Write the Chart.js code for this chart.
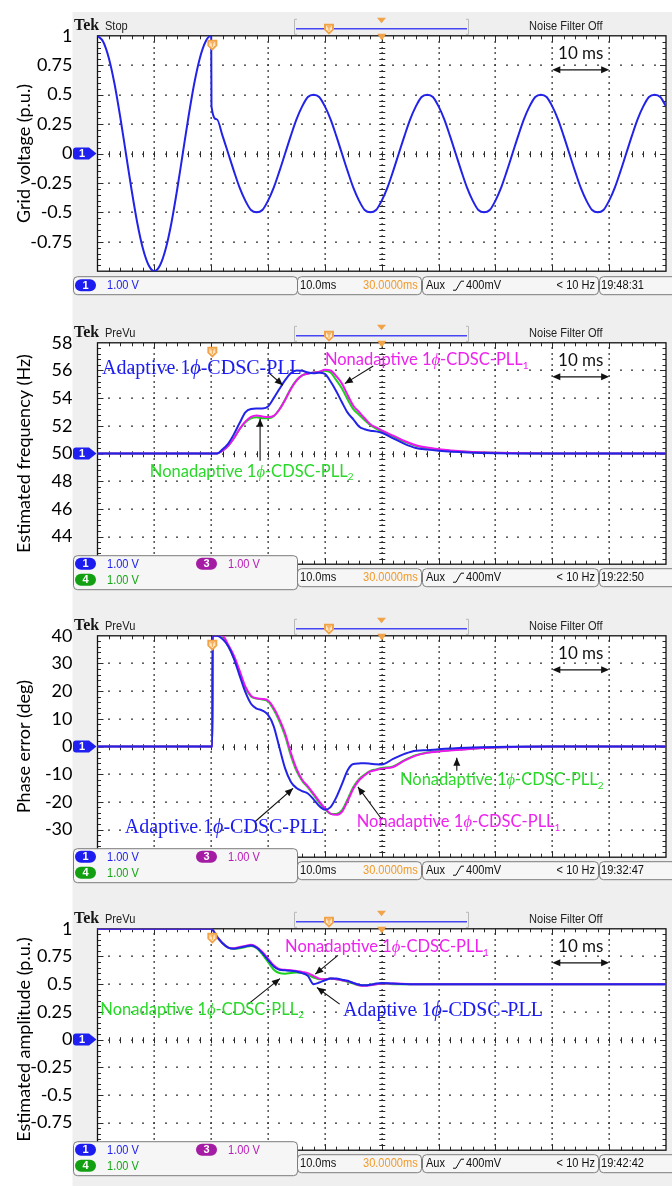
<!DOCTYPE html>
<html>
<head>
<meta charset="utf-8">
<script src="https://cdn.jsdelivr.net/npm/chart.js@4.4.1/dist/chart.umd.min.js"></script>
<style>
html, body { margin: 0; padding: 0; background: #fff; }
#wrap { position: relative; width: 672px; height: 1186px; overflow: hidden; }
canvas { position: absolute; left: 0; }
</style>
</head>
<body>
<div id="wrap">
  <canvas id="c1" width="672" height="307" style="top:0px"></canvas>
  <canvas id="c2" width="672" height="293" style="top:307px"></canvas>
  <canvas id="c3" width="672" height="293" style="top:600px"></canvas>
  <canvas id="c4" width="672" height="293" style="top:893px"></canvas>
</div>
<script>
// ---- panel 1: grid voltage (p.u.), time in ms
var V_T = [0,1,2,3,4,5,6,7,8,9,10,11,12,13,14,15,16,17,18,19,20,
  20.05,21,22,23,24,25,26,27,28,29,30,31,32,33,34,35,36,37,38,39,
  40,41,42,43,44,45,46,47,48,49,50,51,52,53,54,55,56,57,58,59,
  60,61,62,63,64,65,66,67,68,69,70,71,72,73,74,75,76,77,78,79,
  80,81,82,83,84,85,86,87,88,89,90,91,92,93,94,95,96,97,98,99,100];
var V_GRID = [1.00,0.95,0.81,0.59,0.31,0.00,-0.31,-0.59,-0.81,-0.95,-1.00,-0.95,-0.81,-0.59,-0.31,0.00,0.31,0.59,0.81,0.95,1.00,
  0.40,0.29,0.15,0.00,-0.15,-0.29,-0.40,-0.48,-0.50,-0.48,-0.40,-0.29,-0.15,0.00,0.15,0.29,0.40,0.48,0.50,0.48,
  0.40,0.29,0.15,0.00,-0.15,-0.29,-0.40,-0.48,-0.50,-0.48,-0.40,-0.29,-0.15,0.00,0.15,0.29,0.40,0.48,0.50,0.48,
  0.40,0.29,0.15,0.00,-0.15,-0.29,-0.40,-0.48,-0.50,-0.48,-0.40,-0.29,-0.15,0.00,0.15,0.29,0.40,0.48,0.50,0.48,
  0.40,0.29,0.15,0.00,-0.15,-0.29,-0.40,-0.48,-0.50,-0.48,-0.40,-0.29,-0.15,0.00,0.15,0.29,0.40,0.48,0.50,0.48,
  0.40];
var V_TICKS = [1, 0.75, 0.5, 0.25, 0, -0.25, -0.5, -0.75];

// ---- panel 2: estimated frequency (Hz)
var F_T = [0,10,20,21,22,23,24,25,26,27,28,29,30,31,32,33,34,35,36,37,38,39,40,41,42,43,44,45,46,47,48,49,50,52,54,56,58,60,65,70,80,90,100];
var F_ADAPTIVE = [50,50,50,50,50.3,50.72,51.4,52.2,52.97,53.22,53.25,53.26,53.4,54.0,54.66,55.3,55.8,56.0,55.98,55.85,55.8,55.83,55.75,55.2,54.5,53.7,52.95,52.47,51.95,51.75,51.65,51.6,51.5,51.1,50.7,50.4,50.28,50.2,50.08,50.02,50,50,50];
var F_NON1 = [50,50,50,50,50.2,50.55,51.1,51.77,52.3,52.65,52.75,52.68,52.63,52.72,53.18,53.87,54.65,55.27,55.65,55.77,55.85,55.9,56.05,56.0,55.59,55.05,54.23,53.45,53.0,52.55,52.12,51.88,51.67,51.29,50.9,50.6,50.43,50.3,50.13,50.05,50,50,50];
var F_NON2 = [50,50,50,50,50.2,50.55,51.1,51.75,52.25,52.55,52.62,52.55,52.55,52.7,53.2,53.9,54.7,55.3,55.65,55.78,55.85,55.9,55.98,55.85,55.3,54.7,53.9,53.2,52.8,52.4,52.05,51.8,51.6,51.22,50.85,50.55,50.4,50.28,50.12,50.05,50,50,50];
var F_TICKS = [58, 56, 54, 52, 50, 48, 46, 44];

// ---- panel 3: phase error (deg)
var P_T = [0,10,20.2,20.25,21,22,23,24,25,26,27,28,29,30,31,32,33,34,35,36,37,38,39,40,41,42,43,44,45,46,47,48,49,50,52,54,56,58,60,65,70,80,90,100];
var P_ADAPTIVE = [0,0,0,40,40,38.8,36.2,31.7,25.6,19.7,15.45,13.7,13.0,11.4,7.3,-0.4,-7.9,-12.7,-15.0,-16.1,-17.0,-19.1,-21.5,-22.8,-21.9,-18.4,-13.6,-8.55,-6.3,-6.1,-6.05,-6.2,-6.4,-6.5,-4.5,-2.65,-1.5,-1.35,-1.0,-0.45,-0.15,0,0,0];
var P_NON1 = [0,0,0,40,40,40,36.7,32.8,27.4,21.7,18.4,17.4,17.2,16.6,13.9,9.9,4.8,-2.2,-8.0,-12.0,-14.4,-17.0,-19.8,-22.3,-24.3,-24.7,-23.6,-19.7,-15.3,-12.2,-10.4,-9.0,-8.5,-8.0,-7.4,-5.1,-3.3,-2.3,-1.8,-1.0,-0.4,0,0,0];
var P_NON2 = [0,0,0,40,40,39.5,36.2,32.0,26.8,21.2,18.1,17.3,17.0,16.3,13.3,9.1,3.8,-3.2,-8.8,-12.4,-14.8,-17.5,-20.3,-22.7,-24.3,-24.4,-23.0,-19.0,-14.6,-11.8,-10.1,-8.8,-8.3,-7.8,-7.2,-4.9,-3.1,-2.2,-1.7,-0.9,-0.4,0,0,0];
var P_TICKS = [40, 30, 20, 10, 0, -10, -20, -30];

// ---- panel 4: estimated amplitude (p.u.)
var A_T = [0,10,20,21,22,23,24,25,26,27,28,29,30,31,32,33,34,35,36,37,38,39,40,41,42,43,44,45,46,47,48,49,50,52,55,60,70,80,90,100];
var A_ADAPTIVE = [1,1,1,0.93,0.87,0.83,0.82,0.83,0.84,0.85,0.83,0.78,0.72,0.66,0.63,0.625,0.62,0.615,0.60,0.575,0.50,0.515,0.535,0.55,0.55,0.54,0.53,0.51,0.495,0.49,0.495,0.505,0.51,0.505,0.50,0.50,0.50,0.50,0.50,0.50];
var A_NON1 = [1,1,1,0.93,0.87,0.83,0.825,0.835,0.845,0.855,0.835,0.79,0.73,0.67,0.635,0.63,0.625,0.62,0.61,0.60,0.575,0.55,0.545,0.55,0.545,0.535,0.525,0.51,0.49,0.485,0.49,0.50,0.505,0.505,0.50,0.50,0.50,0.50,0.50,0.50];
var A_NON2 = [1,1,1,0.93,0.87,0.83,0.82,0.825,0.835,0.845,0.825,0.77,0.70,0.63,0.60,0.595,0.60,0.605,0.60,0.585,0.56,0.545,0.545,0.55,0.545,0.535,0.52,0.505,0.49,0.49,0.495,0.50,0.505,0.50,0.50,0.50,0.50,0.50,0.50,0.50];
var A_TICKS = [1, 0.75, 0.5, 0.25, 0, -0.25, -0.5, -0.75];

// ---- looks
var GREY = '#efefef';
var BLUE = '#2323e8', MAGENTA = '#ee16ee', GREEN = '#20d020';
var TXT_BLUE = '#1c1cf2', TXT_MAGENTA = '#ee22ee', TXT_GREEN = '#2ad82a';
var ORANGE = '#f2a347';
var SANS = 'Lato, "Open Sans", sans-serif';
var SERIF = '"Liberation Serif", "DejaVu Serif", serif';
var NARROW = '"Liberation Sans", Arial, sans-serif';

var LABEL_PARTS = {
  adaptive: [{t: 'Adaptive 1'}, {t: '\u03D5', it: true}, {t: '-CDSC-PLL'}],
  non1: [{t: 'Nonadaptive 1'}, {t: '\u03D5', it: true, serif: true}, {t: '-CDSC-PLL'}, {t: '1', sub: true}],
  non2: [{t: 'Nonadaptive 1'}, {t: '\u03D5', it: true, serif: true}, {t: '-CDSC-PLL'}, {t: '2', sub: true}]
};
var LABEL_COLOR = {adaptive: TXT_BLUE, non1: TXT_MAGENTA, non2: TXT_GREEN};

// squeezed scope text
function sq(ctx, str, x, y, color, size, align) {
  ctx.save();
  ctx.font = size + 'px ' + NARROW;
  ctx.fillStyle = color;
  ctx.textBaseline = 'middle';
  ctx.textAlign = align || 'left';
  ctx.translate(x, y);
  ctx.scale(0.85, 1);
  ctx.fillText(str, 0, 0);
  ctx.restore();
}

function box(ctx, x, y, w, h) {
  ctx.beginPath();
  ctx.roundRect(x + 0.5, y + 0.5, w, h, 4);
  ctx.fillStyle = '#f6f6f6';
  ctx.fill();
  ctx.strokeStyle = '#7c7c7c';
  ctx.lineWidth = 1;
  ctx.stroke();
}

function pill(ctx, x, y, color, label) {
  ctx.beginPath();
  ctx.roundRect(x, y - 6, 21, 12, 6);
  ctx.fillStyle = color;
  ctx.fill();
  ctx.fillStyle = '#fff';
  ctx.font = 'bold 11px ' + NARROW;
  ctx.textAlign = 'center';
  ctx.textBaseline = 'middle';
  ctx.fillText(label, x + 10.5, y + 0.5);
}

function arrowHead(ctx, x1, y1, x2, y2, len, half) {
  var ang = Math.atan2(y2 - y1, x2 - x1);
  ctx.beginPath();
  ctx.moveTo(x2, y2);
  ctx.lineTo(x2 - len * Math.cos(ang) + half * Math.sin(ang), y2 - len * Math.sin(ang) - half * Math.cos(ang));
  ctx.lineTo(x2 - len * Math.cos(ang) - half * Math.sin(ang), y2 - len * Math.sin(ang) + half * Math.cos(ang));
  ctx.closePath();
  ctx.fill();
}

function drawGraticule(chart) {
  var ctx = chart.ctx, a = chart.chartArea, X = chart.scales.x, Y = chart.scales.y;
  var ymin = Y.min, ystep = (Y.max - Y.min) / 8;
  var k, x, y, L;
  ctx.save();
  ctx.fillStyle = '#3a3a3a';
  for (var i = 1; i < 10; i++) {
    x = Math.round(X.getPixelForValue(i * 10));
    for (k = 1; k < 40; k++) {
      y = Y.getPixelForValue(ymin + k * ystep / 5);
      ctx.fillRect(x - 0.5, Math.round(y) - 1, 1.3, 2);
    }
  }
  for (var j = 1; j < 8; j++) {
    y = Math.round(Y.getPixelForValue(ymin + j * ystep));
    for (k = 1; k < 50; k++) {
      x = X.getPixelForValue(k * 2);
      ctx.fillRect(Math.round(x) - 1, y - 0.5, 2, 1.3);
    }
  }
  ctx.strokeStyle = '#2a2a2a';
  ctx.lineWidth = 1;
  var cx = Math.round(X.getPixelForValue(50)) + 0.25, cy = Math.round(Y.getPixelForValue(ymin + 4 * ystep)) + 0.25;
  ctx.beginPath();
  for (k = 1; k < 40; k++) {
    y = Math.round(Y.getPixelForValue(ymin + k * ystep / 5)) + 0.5;
    ctx.moveTo(cx - 3, y); ctx.lineTo(cx + 3, y);
    L = k % 5 === 0 ? 6 : 3.5;
    ctx.moveTo(a.left, y); ctx.lineTo(a.left + L, y);
    ctx.moveTo(a.right, y); ctx.lineTo(a.right - L, y);
  }
  for (k = 1; k < 50; k++) {
    x = Math.round(X.getPixelForValue(k * 2)) + 0.5;
    ctx.moveTo(x, cy - 3); ctx.lineTo(x, cy + 3);
    L = k % 5 === 0 ? 6 : 3.5;
    ctx.moveTo(x, a.top); ctx.lineTo(x, a.top + L);
    ctx.moveTo(x, a.bottom); ctx.lineTo(x, a.bottom - L);
  }
  ctx.stroke();
  ctx.strokeStyle = '#111';
  ctx.lineWidth = 1.3;
  ctx.strokeRect(a.left, a.top, a.right - a.left, a.bottom - a.top);
  ctx.restore();
}

function drawHeader(chart, p) {
  var ctx = chart.ctx, a = chart.chartArea, yc = a.top - 10;
  ctx.save();
  ctx.font = 'bold 16px ' + SERIF;
  ctx.fillStyle = '#151515';
  ctx.textBaseline = 'middle';
  ctx.textAlign = 'left';
  ctx.fillText('Tek', 74, yc + 0.5);
  sq(ctx, p.mode, 105, yc + 1, '#222', 13);
  sq(ctx, 'Noise Filter Off', 529, yc + 1, '#222', 13);
  // record-length bar
  ctx.strokeStyle = '#b8b8b8';
  ctx.lineWidth = 1;
  ctx.beginPath();
  ctx.moveTo(297, yc - 6.5); ctx.lineTo(294.5, yc - 6.5); ctx.lineTo(294.5, yc + 8.5); ctx.lineTo(297, yc + 8.5);
  ctx.moveTo(466, yc - 6.5); ctx.lineTo(468.5, yc - 6.5); ctx.lineTo(468.5, yc + 8.5); ctx.lineTo(466, yc + 8.5);
  ctx.stroke();
  ctx.strokeStyle = '#4646f2';
  ctx.lineWidth = 1.6;
  ctx.beginPath();
  ctx.moveTo(296, yc + 3); ctx.lineTo(467, yc + 3);
  ctx.stroke();
  tMarker(ctx, 329, yc + 3);
  ctx.fillStyle = ORANGE;
  ctx.beginPath();
  ctx.moveTo(377, yc - 8); ctx.lineTo(386, yc - 8); ctx.lineTo(381.5, yc - 2.5);
  ctx.closePath();
  ctx.fill();
  ctx.restore();
}

function tMarker(ctx, x, y) {
  ctx.fillStyle = ORANGE;
  ctx.beginPath();
  ctx.moveTo(x - 5, y - 5); ctx.lineTo(x + 5, y - 5); ctx.lineTo(x + 5, y + 1); ctx.lineTo(x, y + 6); ctx.lineTo(x - 5, y + 1);
  ctx.closePath();
  ctx.fill();
  ctx.fillStyle = '#fde6c6';
  ctx.beginPath();
  ctx.moveTo(x - 3, y - 3); ctx.lineTo(x + 3, y - 3); ctx.lineTo(x + 3, y + 0.5); ctx.lineTo(x, y + 3.5); ctx.lineTo(x - 3, y + 0.5);
  ctx.closePath();
  ctx.fill();
  ctx.fillStyle = ORANGE;
  ctx.fillRect(x - 2, y - 2.5, 4, 1);
  ctx.fillRect(x - 0.5, y - 2.5, 1, 4.5);
}

function drawMarkers(chart, p) {
  var ctx = chart.ctx, a = chart.chartArea, X = chart.scales.x, Y = chart.scales.y;
  ctx.save();
  // trigger point and centre marker
  tMarker(ctx, X.getPixelForValue(20.2), a.top + 9);
  ctx.fillStyle = ORANGE;
  var cx = X.getPixelForValue(50);
  ctx.beginPath();
  ctx.moveTo(cx - 4.5, a.top - 2); ctx.lineTo(cx + 4.5, a.top - 2); ctx.lineTo(cx, a.top + 5);
  ctx.closePath();
  ctx.fill();
  // channel 1 ground marker
  var y = Y.getPixelForValue(p.zero);
  ctx.fillStyle = '#1f1ff0';
  ctx.beginPath();
  ctx.moveTo(76, y - 6); ctx.lineTo(89, y - 6); ctx.lineTo(96.5, y); ctx.lineTo(89, y + 6); ctx.lineTo(76, y + 6);
  ctx.quadraticCurveTo(73, y + 6, 73, y + 3); ctx.lineTo(73, y - 3); ctx.quadraticCurveTo(73, y - 6, 76, y - 6);
  ctx.closePath();
  ctx.fill();
  ctx.fillStyle = '#fff';
  ctx.font = 'bold 11px ' + NARROW;
  ctx.textAlign = 'center';
  ctx.textBaseline = 'middle';
  ctx.fillText('1', 82, y + 0.5);
  ctx.restore();
}

function drawStatus(chart, p) {
  var ctx = chart.ctx, pb = chart.chartArea.bottom;
  var ry, rh = 18, ty;
  ctx.save();
  if (p.channels === 1) {
    ry = pb + 5;
    box(ctx, 73, ry, 224, rh);
    pill(ctx, 75, ry + 9, '#1c1cf0', '1');
    sq(ctx, '1.00 V', 107, ry + 9.5, '#2020f0', 13);
  } else {
    ry = pb + 4;
    box(ctx, 73, pb - 9, 224, 34);
    pill(ctx, 75, pb - 0.5, '#1c1cf0', '1');
    sq(ctx, '1.00 V', 107, pb, '#2020f0', 13);
    pill(ctx, 196, pb - 0.5, '#a41ca4', '3');
    sq(ctx, '1.00 V', 228, pb, '#b81cb8', 13);
    pill(ctx, 75, pb + 15.5, '#12a012', '4');
    sq(ctx, '1.00 V', 107, pb + 16, '#14a814', 13);
  }
  ty = ry + 9.5;
  box(ctx, 297, ry, 124, rh);
  sq(ctx, '10.0ms', 300, ty, '#111', 13);
  sq(ctx, '30.0000ms', 363, ty, '#f09a2a', 13);
  box(ctx, 422, ry, 176, rh);
  sq(ctx, 'Aux', 426, ty, '#111', 13);
  ctx.strokeStyle = '#111';
  ctx.lineWidth = 1;
  ctx.beginPath();
  ctx.moveTo(453, ty + 4.5); ctx.lineTo(456, ty + 4.5); ctx.lineTo(461, ty - 4.5); ctx.lineTo(464, ty - 4.5);
  ctx.stroke();
  sq(ctx, '400mV', 466, ty, '#111', 13);
  sq(ctx, '< 10 Hz', 595, ty, '#111', 13, 'right');
  box(ctx, 599, ry, 90, rh);
  sq(ctx, p.clock, 601, ty, '#111', 13);
  ctx.restore();
}

function drawScaleBar(chart) {
  var ctx = chart.ctx, a = chart.chartArea, X = chart.scales.x;
  var x1 = X.getPixelForValue(80), x2 = X.getPixelForValue(90), y = a.top + 34;
  ctx.save();
  ctx.fillStyle = '#111';
  ctx.font = '17px ' + SANS;
  ctx.textAlign = 'center';
  ctx.textBaseline = 'middle';
  ctx.fillText('10 ms', (x1 + x2) / 2, a.top + 18);
  ctx.strokeStyle = '#111';
  ctx.lineWidth = 1.3;
  ctx.beginPath();
  ctx.moveTo(x1 + 4, y); ctx.lineTo(x2 - 4, y);
  ctx.stroke();
  arrowHead(ctx, x2, y, x1, y, 8, 3.5);
  arrowHead(ctx, x1, y, x2, y, 8, 3.5);
  ctx.restore();
}

function drawNotes(chart, p) {
  var ctx = chart.ctx, X = chart.scales.x, Y = chart.scales.y;
  ctx.save();
  (p.arrows || []).forEach(function(r) {
    var x1 = X.getPixelForValue(r[0]), y1 = Y.getPixelForValue(r[1]);
    var x2 = X.getPixelForValue(r[2]), y2 = Y.getPixelForValue(r[3]);
    ctx.strokeStyle = '#111';
    ctx.fillStyle = '#111';
    ctx.lineWidth = 1.1;
    ctx.beginPath();
    ctx.moveTo(x1, y1); ctx.lineTo(x2, y2);
    ctx.stroke();
    arrowHead(ctx, x1, y1, x2, y2, 8, 3.5);
  });
  (p.labels || []).forEach(function(l) {
    var isSerif = l.kind === 'adaptive';
    var size = isSerif ? 20 : 16.5;
    var cx = X.getPixelForValue(l.x), base = Y.getPixelForValue(l.y) + size * 0.33;
    ctx.fillStyle = LABEL_COLOR[l.kind];
    ctx.textBaseline = 'alphabetic';
    ctx.textAlign = 'left';
    LABEL_PARTS[l.kind].forEach(function(part) {
      var s = part.sub ? Math.round(size * 0.62) : size;
      var fam = (isSerif || part.serif) ? SERIF : SANS;
      ctx.font = (part.it ? 'italic ' : '') + s + 'px ' + fam;
      ctx.fillText(part.t, cx, base + (part.sub ? size * 0.22 : 0));
      cx += ctx.measureText(part.t).width;
    });
  });
  ctx.restore();
}

function scopePlugin(p) {
  return {
    id: 'scope',
    beforeDraw: function(chart) {
      var ctx = chart.ctx, a = chart.chartArea;
      ctx.save();
      ctx.fillStyle = '#fff';
      ctx.fillRect(0, 0, chart.width, chart.height);
      ctx.fillStyle = GREY;
      ctx.fillRect(72.5, p.greyTop, chart.width - 72.5, chart.height - p.greyTop);
      ctx.fillStyle = '#fff';
      ctx.fillRect(a.left, a.top, a.right - a.left, a.bottom - a.top);
      ctx.restore();
    },
    beforeDatasetsDraw: function(chart) {
      drawGraticule(chart);
    },
    afterDatasetsDraw: function(chart) {
      drawMarkers(chart, p);
      drawHeader(chart, p);
      drawStatus(chart, p);
      drawScaleBar(chart);
      drawNotes(chart, p);
    }
  };
}

function buildPanel(id, p) {
  var datasets = p.series.map(function(s) {
    return {
      data: p.t.map(function(t, i) { return {x: t, y: s.values[i]}; }),
      borderColor: s.color,
      borderWidth: 2,
      pointRadius: 0,
      cubicInterpolationMode: 'monotone',
      fill: false
    };
  });
  return new Chart(document.getElementById(id), {
    type: 'line',
    data: {datasets: datasets},
    options: {
      responsive: false,
      animation: false,
      devicePixelRatio: 1,
      layout: {padding: {top: p.padTop, bottom: p.padBottom, left: 0, right: 6}},
      plugins: {legend: {display: false}, tooltip: {enabled: false}},
      scales: {
        x: {type: 'linear', min: 0, max: 100, display: false},
        y: {
          min: p.min,
          max: p.max,
          afterBuildTicks: function(s) { s.ticks = p.ticks.map(function(v) { return {value: v}; }); },
          afterFit: function(s) { s.width = 97.5; },
          grid: {display: false, drawTicks: false},
          border: {display: false},
          ticks: {
            padding: 25,
            color: '#000',
            autoSkip: false,
            font: {family: SANS, size: 18},
            callback: function(v) { return String(v); }
          },
          title: {
            display: true,
            text: p.title,
            color: '#000',
            font: {family: SANS, size: 18},
            padding: {top: 13, bottom: 0}
          }
        }
      }
    },
    plugins: [scopePlugin(p)]
  });
}

buildPanel('c1', {
  title: 'Grid voltage (p.u.)', min: -1, max: 1, ticks: V_TICKS, zero: 0,
  padTop: 32, padBottom: 22.5, greyTop: 12, mode: 'Stop', clock: '19:48:31', channels: 1,
  t: V_T,
  series: [{values: V_GRID, color: BLUE}]
});

buildPanel('c2', {
  title: 'Estimated frequency (Hz)', min: 42, max: 58, ticks: F_TICKS, zero: 50,
  padTop: 16.5, padBottom: 24, greyTop: 0, mode: 'PreVu', clock: '19:22:50', channels: 3,
  t: F_T,
  series: [{values: F_ADAPTIVE, color: BLUE}, {values: F_NON1, color: MAGENTA}, {values: F_NON2, color: GREEN}],
  labels: [{kind: 'adaptive', x: 0.8, y: 56.2}, {kind: 'non1', x: 40.0, y: 56.76}, {kind: 'non2', x: 9.2, y: 48.72}],
  arrows: [[30.0, 55.88, 32.6, 54.93], [48.5, 56.32, 43.5, 55.05], [28.6, 49.48, 28.6, 52.52]]
});

buildPanel('c3', {
  title: 'Phase error (deg)', min: -40, max: 40, ticks: P_TICKS, zero: 0,
  padTop: 18, padBottom: 23, greyTop: 0, mode: 'PreVu', clock: '19:32:47', channels: 3,
  t: P_T,
  series: [{values: P_ADAPTIVE, color: BLUE}, {values: P_NON1, color: MAGENTA}, {values: P_NON2, color: GREEN}],
  labels: [{kind: 'adaptive', x: 4.8, y: -28.8}, {kind: 'non1', x: 45.6, y: -27.2}, {kind: 'non2', x: 53.2, y: -12.0}],
  arrows: [[27.7, -27.2, 34.4, -15.1], [50.0, -26.3, 45.8, -14.6], [63.2, -8.8, 63.2, -4.1]]
});

buildPanel('c4', {
  title: 'Estimated amplitude (p.u.)', min: -1, max: 1, ticks: A_TICKS, zero: 0,
  padTop: 19, padBottom: 22, greyTop: 0, mode: 'PreVu', clock: '19:42:42', channels: 3,
  t: A_T,
  series: [{values: A_ADAPTIVE, color: BLUE}, {values: A_NON1, color: MAGENTA}, {values: A_NON2, color: GREEN}],
  labels: [{kind: 'non1', x: 33.0, y: 0.84}, {kind: 'non2', x: 0.5, y: 0.275}, {kind: 'adaptive', x: 43.2, y: 0.275}],
  arrows: [[42.3, 0.76, 38.3, 0.59], [26.5, 0.32, 32.1, 0.55], [42.6, 0.32, 38.6, 0.47]]
});
</script>
</body>
</html>
